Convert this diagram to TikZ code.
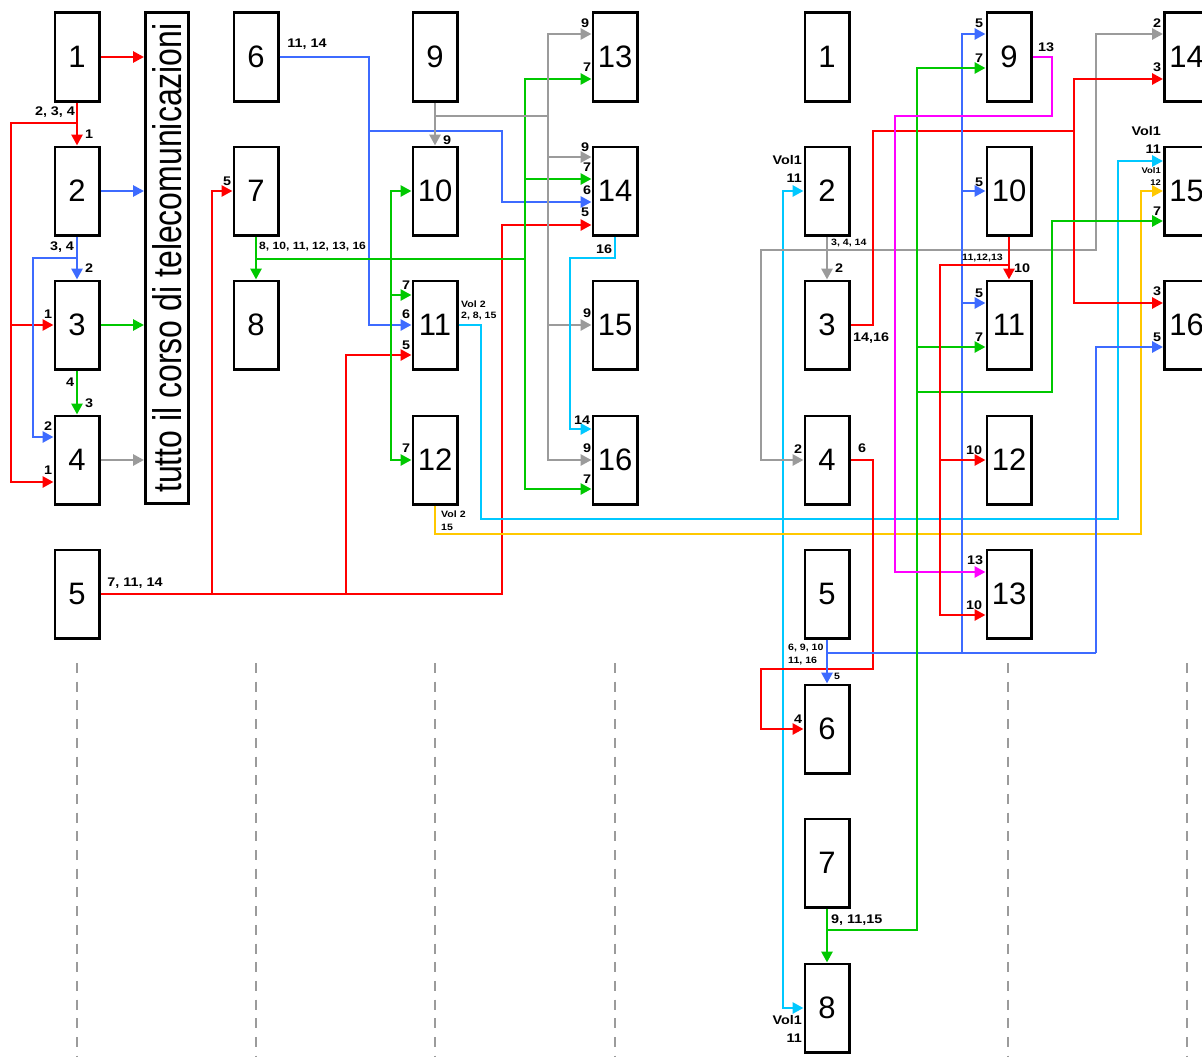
\documentclass[tikz,border=0pt]{standalone}
\usepackage{fontspec}
\setmainfont{Liberation Sans}
\newfontfamily\labfont[FakeStretch=1.15]{Liberation Sans}
\usetikzlibrary{arrows.meta}
\definecolor{cred}{HTML}{FF0000}
\definecolor{cblue}{HTML}{3D6BFF}
\definecolor{cgreen}{HTML}{00C800}
\definecolor{cgray}{HTML}{9B9B9B}
\definecolor{ccyan}{HTML}{00C8FF}
\definecolor{cyel}{HTML}{FFC800}
\definecolor{cmag}{HTML}{FF00FF}
\tikzset{
 box/.style={draw=black, fill=white, line width=2.8pt, minimum width=44.2pt, minimum height=88.2pt, inner sep=0pt, font=\fontsize{31}{31}\selectfont},
 conn/.style={line width=2.8pt},
 arr/.style={conn,-{Triangle[length=11pt,width=11pt]}},
 lab/.style={font=\labfont\bfseries\fontsize{12.5}{13}\selectfont, inner sep=0pt},
 labm/.style={font=\labfont\bfseries\fontsize{10.5}{11}\selectfont, inner sep=0pt},
 labs/.style={font=\labfont\bfseries\fontsize{9.2}{10}\selectfont, inner sep=0pt},
 labxs/.style={font=\labfont\bfseries\fontsize{8.2}{8.5}\selectfont, inner sep=0pt},
 guide/.style={cgray, line width=2pt, dash pattern=on 10pt off 8.7pt},
}
\begin{document}
\begin{tikzpicture}[x=1pt,y=-1pt]
\clip (0,0) rectangle (1202,1057);
\fill[white] (0,0) rectangle (1202,1057);
% guides
\draw[guide] (77,663) -- (77,1057);
\draw[guide] (256,663) -- (256,1057);
\draw[guide] (435,663) -- (435,1057);
\draw[guide] (615,663) -- (615,1057);
\draw[guide] (1008,663) -- (1008,1057);
\draw[guide] (1187,663) -- (1187,1057);
% boxes left
\node[box] (L1) at (77,57) {1};
\node[box] (L2) at (77,191) {2};
\node[box] (L3) at (77,325) {3};
\node[box] (L4) at (77,460) {4};
\node[box] (L5) at (77,594) {5};
\node[box, minimum width=43.2pt, minimum height=491.2pt] (T) at (167,258) {};
\node[rotate=90, inner sep=0pt, font=\fontsize{32}{32}\selectfont] (Ttxt) at (T.center) {\scalebox{1}[1.25]{tutto il corso di telecomunicazioni}};
\node[box] (M6) at (256,57) {6};
\node[box] (M7) at (256,191) {7};
\node[box] (M8) at (256,325) {8};
\node[box] (C9) at (435,57) {9};
\node[box] (C10) at (435,191) {10};
\node[box] (C11) at (435,325) {11};
\node[box] (C12) at (435,460) {12};
\node[box] (D13) at (615,57) {13};
\node[box] (D14) at (615,191) {14};
\node[box] (D15) at (615,325) {15};
\node[box] (D16) at (615,460) {16};
% boxes right
\node[box] (E1) at (827,57) {1};
\node[box] (E2) at (827,191) {2};
\node[box] (E3) at (827,325) {3};
\node[box] (E4) at (827,460) {4};
\node[box] (E5) at (827,594) {5};
\node[box] (E6) at (827,729) {6};
\node[box] (E7) at (827,863) {7};
\node[box] (E8) at (827,1008) {8};
\node[box] (F9) at (1009,57) {9};
\node[box] (F10) at (1009,191) {10};
\node[box] (F11) at (1009,325) {11};
\node[box] (F12) at (1009,460) {12};
\node[box] (F13) at (1009,594) {13};
\node[box] (G14) at (1186.5,57) {14};
\node[box] (G15) at (1186.5,191) {15};
\node[box] (G16) at (1186.5,325) {16};
% ---- left connectors
\draw[arr,cred] (L1.east) -- (T.west |- L1.east);
\draw[arr,cblue] (L2.east) -- (T.west |- L2.east);
\draw[arr,cgreen] (L3.east) -- (T.west |- L3.east);
\draw[arr,cgray] (L4.east) -- (T.west |- L4.east);
\draw[arr,cred] (L1.south) -- (L2.north);
\draw[arr,cred] (L1.south |- 0,123) -| (11,482) -- (L4.west |- 0,482);
\draw[arr,cred] (11,325) -- (L3.west);
\draw[arr,cblue] (L2.south) -- (L3.north);
\draw[arr,cblue] (L2.south |- 0,258) -| (33,437) -- (L4.west |- 0,437);
\draw[arr,cgreen] (L3.south) -- (L4.north);
% column B/C/D
\draw[arr,cblue] (M6.east) -| (369,325) -- (C11.west);
\draw[arr,cblue] (369,131) -| (502,202) -- (D14.west |- 0,202);
\draw[arr,cred] (L5.east) -| (502,225) -- (D14.west |- 0,225);
\draw[arr,cred] (212,594) |- (M7.west);
\draw[arr,cred] (346,594) |- (C11.west |- 0,355);
\draw[arr,cgreen] (M7.south) -- (M8.north);
\draw[conn,cgreen] (M7.south |- 0,259) -- (525,259);
\draw[arr,cgreen] (391,259) |- (C10.west);
\draw[arr,cgreen] (391,191) |- (C12.west);
\draw[arr,cgreen] (391,295) -- (C11.west |- 0,295);
\draw[arr,cgreen] (525,259) |- (D13.west |- 0,79);
\draw[arr,cgreen] (525,79) |- (D16.west |- 0,489);
\draw[arr,cgreen] (525,179) -- (D14.west |- 0,179);
\draw[arr,cgray] (C9.south) -- (C10.north);
\draw[conn,cgray] (C9.south |- 0,116) -- (548,116);
\draw[arr,cgray] (548,116) |- (D13.west |- 0,34);
\draw[arr,cgray] (548,34) |- (D16.west);
\draw[arr,cgray] (548,157) -- (D14.west |- 0,157);
\draw[arr,cgray] (548,325) -- (D15.west);
\draw[arr,ccyan] (D14.south) |- (570,258) |- (D16.west |- 0,429);
\draw[arr,ccyan] (C11.east) -| (481,519) -| (1118,161) -- (G15.west |- 0,161);
\draw[arr,ccyan] (783,519) |- (E2.west);
\draw[arr,ccyan] (783,519) |- (E8.west);
\draw[arr,cyel] (C12.south) |- (1141,534) |- (G15.west);
% right connectors
\draw[arr,cgray] (E2.south) -- (E3.north);
\draw[arr,cgray] (E2.south |- 0,250) -| (761,460) -- (E4.west);
\draw[arr,cgray] (E2.south |- 0,250) -| (1096,34) -- (G14.west |- 0,34);
\draw[arr,cred] (E3.east) -| (873,131) -| (1074,79) -- (G14.west |- 0,79);
\draw[arr,cred] (1074,131) |- (G16.west |- 0,303);
\draw[arr,cred] (E4.east) -| (873,669) -| (761,729) -- (E6.west);
\draw[arr,cblue] (E5.south) -- (E6.north);
\draw[conn,cblue] (E5.south |- 0,653) -- (1096,653);
\draw[arr,cblue] (962,653) |- (F9.west |- 0,34);
\draw[arr,cblue] (962,191) -- (F10.west);
\draw[arr,cblue] (962,303) -- (F11.west |- 0,303);
\draw[arr,cblue] (1096,653) |- (G16.west |- 0,347);
\draw[arr,cgreen] (E7.south) -- (E8.north);
\draw[arr,cgreen] (E7.south |- 0,930) -| (917,68) -- (F9.west |- 0,68);
\draw[arr,cgreen] (917,347) -- (F11.west |- 0,347);
\draw[arr,cgreen] (917,392) -| (1052,221) -- (G15.west |- 0,221);
\draw[arr,cmag] (F9.east) -| (1052,116) -| (895,572) -- (F13.west |- 0,572);
\draw[arr,cred] (F10.south) -- (F11.north);
\draw[arr,cred] (F10.south |- 0,265) -| (940,615) -- (F13.west |- 0,615);
\draw[arr,cred] (940,460) -- (F12.west);
% ---- labels left
\node[lab] (a1) at (55,112) {2, 3, 4};
\node[lab] (a2) at (89,134) {1};
\node[lab] (a3) at (48,314) {1};
\node[lab] (a4) at (48,470) {1};
\node[lab] (a5) at (62,247) {3, 4};
\node[lab] (a6) at (89,268) {2};
\node[lab] (a7) at (48,426) {2};
\node[lab] (a8) at (70,382) {4};
\node[lab] (a9) at (89,403) {3};
\node[lab] (b1) at (307,44) {11, 14};
\node[lab] (b2) at (135,583) {7, 11, 14};
\node[lab] (b3) at (227,181) {5};
\node[lab] (b4) at (406,345) {5};
\node[lab] (b5) at (585,212) {5};
\node[labm,anchor=west] (b6) at (259,247) {8, 10, 11, 12, 13, 16};
\node[lab] (b7) at (406,285) {7};
\node[lab] (b8) at (406,314) {6};
\node[lab] (b9) at (406,448) {7};
\node[lab] (b10) at (587,67) {7};
\node[lab] (b11) at (587,167) {7};
\node[lab] (b12) at (587,190) {6};
\node[lab] (b13) at (587,479) {7};
\node[lab] (b14) at (447,140) {9};
\node[lab] (b15) at (585,23) {9};
\node[lab] (b16) at (585,147) {9};
\node[lab] (b17) at (587,313) {9};
\node[lab] (b18) at (587,448) {9};
\node[lab] (b19) at (604,249) {16};
\node[lab] (b20) at (582,420) {14};
\node[labs,anchor=west] (b21) at (461,304) {Vol 2};
\node[labs,anchor=west] (b22) at (461,316) {2, 8, 15};
\node[labs,anchor=west] (b23) at (441,514) {Vol 2};
\node[labs,anchor=west] (b24) at (441,527) {15};
% ---- labels right
\node[lab,anchor=east] (c1) at (802,160) {Vol1};
\node[lab,anchor=east] (c2) at (802,178) {11};
\node[lab,anchor=east] (c3) at (802,1020) {Vol1};
\node[lab,anchor=east] (c4) at (802,1038) {11};
\node[lab,anchor=east] (c5) at (1161,131) {Vol1};
\node[lab,anchor=east] (c6) at (1161,149) {11};
\node[labxs,anchor=east] (c7) at (1161,171) {Vol1};
\node[labxs,anchor=east] (c8) at (1161,183) {12};
\node[labs,anchor=west] (c9) at (831,243) {3, 4, 14};
\node[lab] (c10) at (839,268) {2};
\node[lab] (c11) at (798,449) {2};
\node[lab] (c12) at (1157,23) {2};
\node[lab,anchor=west] (c13) at (853,338) {14,16};
\node[lab] (c14) at (1157,67) {3};
\node[lab] (c15) at (1157,291) {3};
\node[lab] (c16) at (862,448) {6};
\node[lab] (c17) at (798,719) {4};
\node[labs,anchor=west] (c18) at (788,648) {6, 9, 10};
\node[labs,anchor=west] (c19) at (788,661) {11, 16};
\node[labs] (c20) at (837,676) {5};
\node[lab] (c21) at (979,23) {5};
\node[lab] (c22) at (979,182) {5};
\node[lab] (c23) at (979,293) {5};
\node[lab] (c24) at (1157,337) {5};
\node[lab,anchor=west] (c25) at (831,920) {9, 11,15};
\node[lab] (c26) at (979,58) {7};
\node[lab] (c27) at (979,337) {7};
\node[lab] (c28) at (1157,211) {7};
\node[lab] (c29) at (1046,47) {13};
\node[lab] (c30) at (975,560) {13};
\node[labs,anchor=west] (c31) at (962,258) {11,12,13};
\node[lab] (c32) at (1022,268) {10};
\node[lab] (c33) at (974,450) {10};
\node[lab] (c34) at (974,605) {10};
\end{tikzpicture}
\end{document}
